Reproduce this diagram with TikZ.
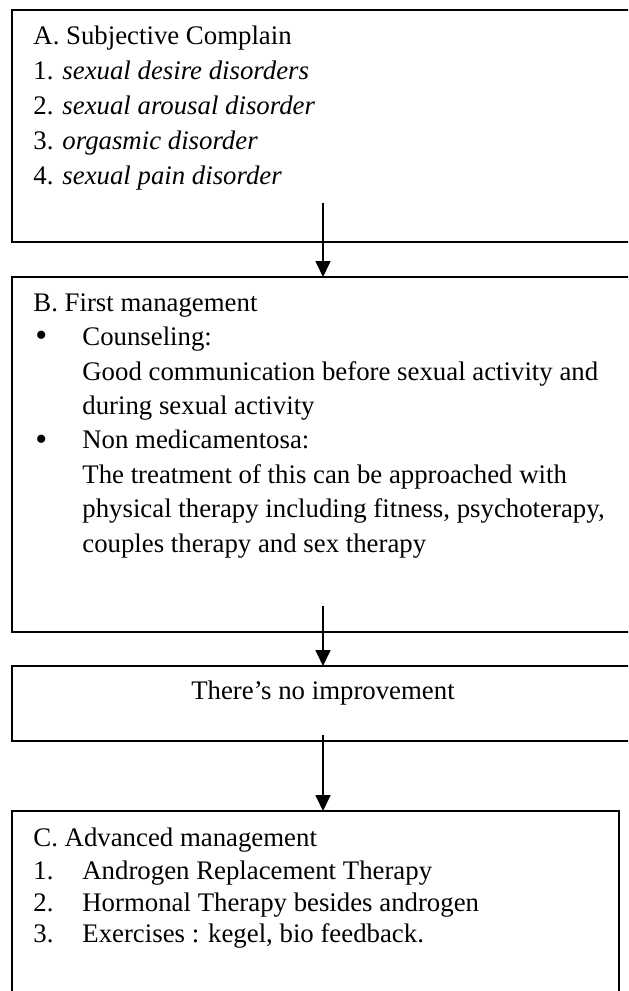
\documentclass[tikz,border=0pt]{standalone}
\usepackage{fontspec}
\setmainfont{Liberation Serif}
\usetikzlibrary{arrows.meta}

\tikzset{
    stage/.style={draw, line width=0.85pt, anchor=north west, inner sep=0pt, outer sep=0pt},
    txt/.style={anchor=base west, align=left, inner sep=0pt, font=\fontsize{13.4}{17.4}\selectfont},
    flow/.style={-{Triangle[width=7.5pt,length=8pt]}, line width=0.85pt}
}
\newcommand{\hang}[1]{\makebox[24.5pt][l]{#1}}
\newcommand{\dotmark}{\hspace*{1pt}\raisebox{-0.6pt}{\fontsize{17}{17}\selectfont\textbullet}}

\begin{document}
\begin{tikzpicture}[x=0.5pt, y=-0.5pt]
                    \useasboundingbox (0, 0) rectangle (628, 991);
                    \clip (0, 0) rectangle (628, 991);

                    % boxes
                    \node[stage, minimum width=319pt, minimum height=116pt] (boxA) at (12, 10) {};
                    \node[stage, minimum width=319pt, minimum height=177.5pt] (boxB) at (12, 277) {};
                    \node[stage, minimum width=319pt, minimum height=37.5pt] (boxN) at (12, 666) {};
                    \node[stage, minimum width=303.5pt, minimum height=100pt] (boxC) at (12, 811) {};

                    % text nodes sit on the baseline of their last line
                    \node[txt] (textA) at (33, 184) {A. Subjective Complain\\
                        1. \textit{sexual desire disorders}\\
                        2. \textit{sexual arousal disorder}\\
                        3. \textit{orgasmic disorder}\\
                        4. \textit{sexual pain disorder}};

                    \node[txt, font=\fontsize{13.4}{17.2}\selectfont] (textB) at (33, 552) {B. First management\\
                        \hang{\dotmark}Counseling:\\
                        \hang{}Good communication before sexual activity and\\
                        \hang{}during sexual activity\\
                        \hang{\dotmark}Non medicamentosa:\\
                        \hang{}The treatment of this can be approached with\\
                        \hang{}physical therapy including fitness, psychoterapy,\\
                        \hang{}couples therapy and sex therapy};

                    \node[txt, anchor=base] (textN) at (323, 699) {There’s no improvement};

                    \node[txt] (textC) at (33, 942) {C. Advanced management\\[-1pt]
                        \hang{1.}Androgen Replacement Therapy\\[-1.5pt]
                        \hang{2.}Hormonal Therapy besides androgen\\[-2pt]
                        \hang{3.}Exercises : kegel, bio feedback.};

                    % arrows start inside the box above
                    \coordinate (fromA) at (323, 203);
                    \coordinate (fromB) at (323, 606);
                    \coordinate (fromN) at (323, 735);
                    \draw[flow] (fromA) -- (fromA |- boxB.north);
                    \draw[flow] (fromB) -- (fromB |- boxN.north);
                    \draw[flow] (fromN) -- (fromN |- boxC.north);
                \end{tikzpicture}
\end{document}
